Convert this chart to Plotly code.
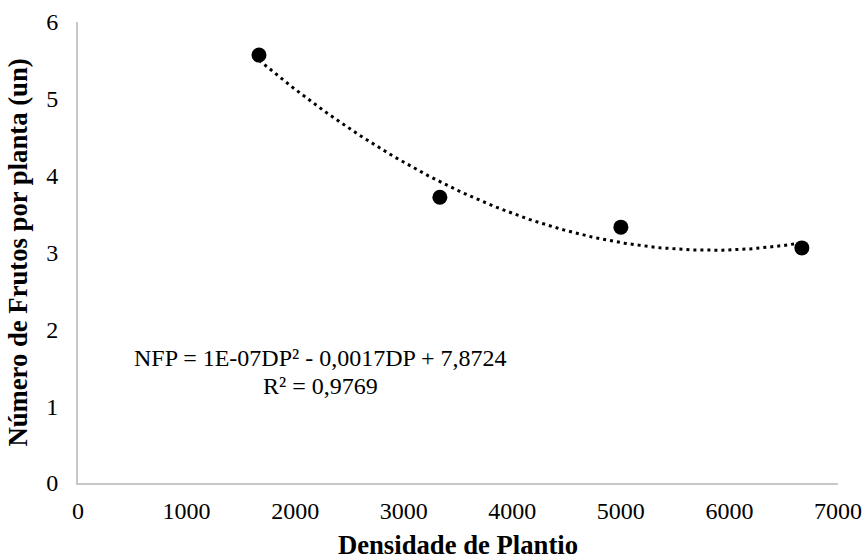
import numpy as np
import plotly.graph_objects as go

densidade = [1667, 3333, 5000, 6667]
frutos = [5.57, 3.72, 3.33, 3.06]
x_ticks = [0, 1000, 2000, 3000, 4000, 5000, 6000, 7000]
y_ticks = [0, 1, 2, 3, 4, 5, 6]
eq_text = "NFP = 1E-07DP² - 0,0017DP + 7,8724"
r2_text = "R² = 0,9769"

coef = np.polyfit(densidade, frutos, 2)
xt = np.linspace(min(densidade), max(densidade), 200)
yt = np.polyval(coef, xt)

font = "Liberation Serif, Times New Roman, serif"
fig = go.Figure()
fig.add_trace(go.Scatter(x=xt, y=yt, mode="lines",
                         line=dict(color="black", width=3, dash="3px,4px"),
                         hoverinfo="skip", showlegend=False))
fig.add_trace(go.Scatter(x=densidade, y=frutos, mode="markers",
                         marker=dict(color="black", size=15), showlegend=False))

fig.update_layout(
    width=866, height=560,
    margin=dict(l=78, r=28, t=22, b=77),
    plot_bgcolor="white", paper_bgcolor="white",
    font=dict(family=font, size=24, color="black"),
    showlegend=False,
)
fig.update_xaxes(range=[0, 7000], tickvals=x_ticks, showgrid=False, zeroline=False,
                 showline=True, linecolor="#c8c8c8", linewidth=2, ticks="",
                 tickfont=dict(size=24), ticklabelstandoff=5, automargin=False,
                 title=dict(text="<b>Densidade de Plantio</b>", font=dict(size=26.7), standoff=14))
fig.update_yaxes(range=[0, 6], tickvals=y_ticks, showgrid=False, zeroline=False,
                 showline=True, linecolor="#c8c8c8", linewidth=2, ticks="",
                 tickfont=dict(size=24), ticklabelstandoff=13, automargin=False,
                 title=dict(text="<b>Número de Frutos por planta (un)</b>", font=dict(size=26.7), standoff=11))
fig.add_annotation(x=2229, y=1.627, xref="x", yref="y", text=eq_text, showarrow=False,
                   font=dict(size=24))
fig.add_annotation(x=2229, y=1.263, xref="x", yref="y", text=r2_text, showarrow=False,
                   font=dict(size=24))
fig.write_html("out.html", config={"displayModeBar": False},
               post_script="document.body.style.margin='0';document.body.style.overflow='hidden';")
